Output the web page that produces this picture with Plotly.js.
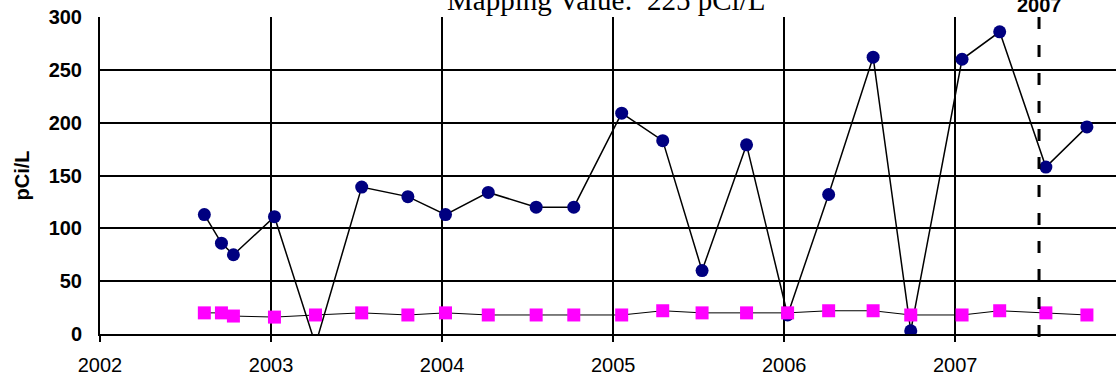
<!DOCTYPE html>
<html>
<head>
<meta charset="utf-8">
<script src="https://cdn.plot.ly/plotly-3.0.1.min.js"></script>
<style>html,body{margin:0;padding:0;background:#fff;overflow:hidden;}#chart{width:1116px;height:377px;}</style>
</head>
<body>
<div id="chart"></div>
<script>
// Sampling dates (decimal years)
const sampleYears = [2002.61, 2002.71, 2002.78, 2003.02, 2003.26, 2003.53, 2003.80, 2004.02, 2004.27, 2004.55, 2004.77, 2005.05, 2005.29, 2005.52, 2005.78, 2006.02, 2006.26, 2006.52, 2006.74, 2007.04, 2007.26, 2007.53, 2007.77];
// Series 1 (navy circles), pCi/L
const series1 = [113, 86, 75, 111, -10, 139, 130, 113, 134, 120, 120, 209, 183, 60, 179, 18, 132, 262, 3, 260, 286, 158, 196];
// Series 2 (magenta squares), pCi/L
const series2 = [20, 20, 17, 16, 18, 20, 18, 20, 18, 18, 18, 18, 22, 20, 20, 20, 22, 22, 18, 18, 22, 20, 18];
// Axis ticks
const xTickVals = [2002, 2003, 2004, 2005, 2006, 2007];
const xTickText = ["2002", "2003", "2004", "2005", "2006", "2007"];
const yTickVals = [0, 50, 100, 150, 200, 250, 300];
// Marker line and texts
const markerYear = 2007.49;
const markerLabel = "2007";
const titleText = "Mapping Value:  225 pCi/L";
const yTitle = "pCi/L";

const sans = "Liberation Sans, Arial, sans-serif";

const traces = [
  {
    x: sampleYears, y: series1, type: "scatter", mode: "lines+markers",
    line: {color: "#000000", width: 1.5},
    marker: {color: "#000080", size: 13, symbol: "circle"},
    showlegend: false, hoverinfo: "x+y"
  },
  {
    x: sampleYears, y: series2, type: "scatter", mode: "lines+markers",
    line: {color: "#000000", width: 1},
    marker: {color: "#FF00FF", size: 13, symbol: "square"},
    showlegend: false, hoverinfo: "x+y"
  }
];

const layout = {
  width: 1116, height: 377,
  margin: {l: 100, r: 0, t: 17, b: 43, pad: 0},
  paper_bgcolor: "#ffffff", plot_bgcolor: "#ffffff",
  showlegend: false,
  xaxis: {
    range: [2002, 2007.94],
    tickmode: "array", tickvals: xTickVals, ticktext: xTickText,
    showgrid: true, gridcolor: "#000000", gridwidth: 2,
    showline: true, linecolor: "#000000", linewidth: 2,
    ticks: "outside", ticklen: 6, tickwidth: 2, tickcolor: "#000000",
    ticklabelstandoff: 6,
    tickfont: {family: sans, size: 20, color: "#000000"},
    zeroline: false
  },
  yaxis: {
    range: [0, 300],
    tickmode: "array", tickvals: yTickVals,
    showgrid: true, gridcolor: "#000000", gridwidth: 2,
    showline: true, linecolor: "#000000", linewidth: 2,
    ticks: "outside", ticklen: 12, tickcolor: "rgba(0,0,0,0)",
    tickfont: {family: sans, size: 20, color: "#000000", weight: "bold"},
    zeroline: false,
    title: {text: yTitle, font: {family: sans, size: 20, color: "#000000", weight: "bold"}, standoff: 14}
  },
  shapes: [
    {type: "line", xref: "x", yref: "paper", x0: markerYear, x1: markerYear, y0: 1, y1: -0.041,
     line: {color: "#000000", width: 3, dash: "12px,16px"}}
  ],
  annotations: [
    {text: titleText, xref: "x", yref: "paper", x: 2004.96, y: 1.053, xanchor: "center", yanchor: "middle",
     showarrow: false, font: {family: "Liberation Serif, Times New Roman, serif", size: 29, color: "#000000"}},
    {text: markerLabel, xref: "x", yref: "paper", x: markerYear, y: 1.038, xanchor: "center", yanchor: "middle",
     showarrow: false, font: {family: sans, size: 20, color: "#000000", weight: "bold"}}
  ]
};

Plotly.newPlot("chart", traces, layout, {displayModeBar: false, staticPlot: true});
</script>
</body>
</html>
